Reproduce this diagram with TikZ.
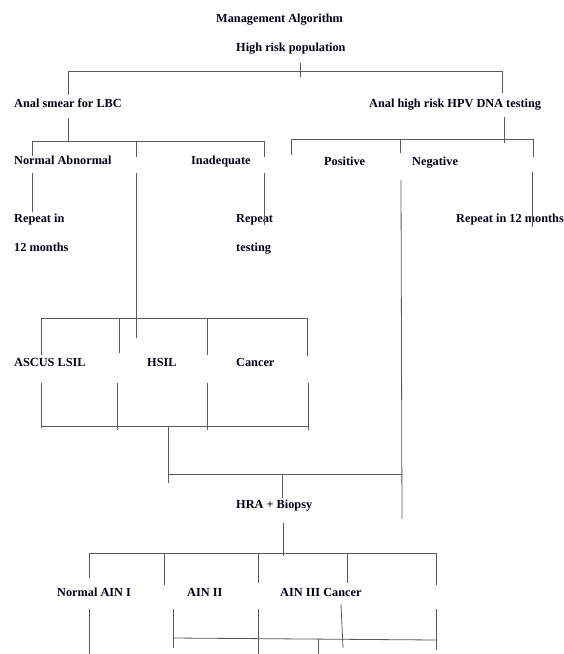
\documentclass[tikz,border=0pt]{standalone}
\usepackage{fontspec}
\setmainfont{Liberation Serif}
\begin{document}
\begin{tikzpicture}[x=1pt,y=-1pt,
  lbl/.style={anchor=mid west,inner sep=0pt,yshift=-2pt,font=\fontsize{12.3}{14}\selectfont\bfseries,text=black!90!blue},
  ln/.style={draw=black!65,line width=0.8pt}]
\useasboundingbox (0,0) rectangle (564,654);
% texts
\node[lbl] (title) at (216,18) {Management Algorithm};
\node[lbl] (pop) at (236,47) {High risk population};
\node[lbl] (lbc) at (14,103) {Anal smear for LBC};
\node[lbl] (hpv) at (369,103) {Anal high risk HPV DNA testing};
\node[lbl] (normab) at (14,160) {Normal Abnormal};
\node[lbl] (inad) at (191,160) {Inadequate};
\node[lbl] (pos) at (324,161) {Positive};
\node[lbl] (neg) at (412,161) {Negative};
\node[lbl] (rep1) at (14,218) {Repeat in};
\node[lbl] (rep1b) at (14,247) {12 months};
\node[lbl] (rep2) at (236,218) {Repeat};
\node[lbl] (rep2b) at (236,247) {testing};
\node[lbl] (rep3) at (456,218) {Repeat in 12 months};
\node[lbl] (ascus) at (14,362) {ASCUS LSIL};
\node[lbl] (hsil) at (147,362) {HSIL};
\node[lbl] (canc) at (236,362) {Cancer};
\node[lbl] (hra) at (236,504) {HRA + Biopsy};
\node[lbl] (ain1) at (57,592) {Normal AIN I};
\node[lbl] (ain2) at (187,592) {AIN II};
\node[lbl] (ain3) at (280,592) {AIN III Cancer};
% top level
\draw[ln] (300,63)--(300,77);
\draw[ln] (68,95)--(68,71)--(502,71)--(502,93);
% left level 2
\draw[ln] (68,118)--(68,142);
\draw[ln] (32,156)--(32,141)--(264,141)--(264,157);
\draw[ln] (136,141)--(136,157);
% right level 2
\draw[ln] (504,117)--(504,143);
\draw[ln] (291,155)--(291,139)--(533,139)--(533,157);
\draw[ln] (400,139)--(400,153);
% level 3 verticals
\draw[ln] (32,173)--(32,212);
\draw[ln] (136,173)--(136,338);
\draw[ln] (264,173)--(264,225);
\draw[ln] (401,180)--(402,519);
\draw[ln] (532,172)--(532,227);
% ASCUS block
\draw[ln] (41,355)--(41,318)--(307,318)--(307,356);
\draw[ln] (119,318)--(119,353);
\draw[ln] (207,318)--(207,355);
\draw[ln] (41,383)--(41,428);
\draw[ln] (117,383)--(117,430);
\draw[ln] (207,383)--(207,430);
\draw[ln] (308,383)--(308,430);
\draw[ln] (41,426)--(308,426);
\draw[ln] (168,426)--(168,483);
\draw[ln] (168,474)--(402,474);
\draw[ln] (282,474)--(282,498);
% bottom
\draw[ln] (283,523)--(283,556);
\draw[ln] (89,578)--(89,553)--(436,553)--(436,585);
\draw[ln] (164,553)--(164,585);
\draw[ln] (258,553)--(258,583);
\draw[ln] (347,553)--(347,583);
\draw[ln] (89,609)--(89,654);
\draw[ln] (173,609)--(173,648);
\draw[ln] (258,609)--(258,654);
\draw[ln] (341,604)--(343,648);
\draw[ln] (436,609)--(436,650);
\draw[ln] (173,638)--(436,640);
\draw[ln] (318,639)--(318,654);
\end{tikzpicture}
\end{document}
